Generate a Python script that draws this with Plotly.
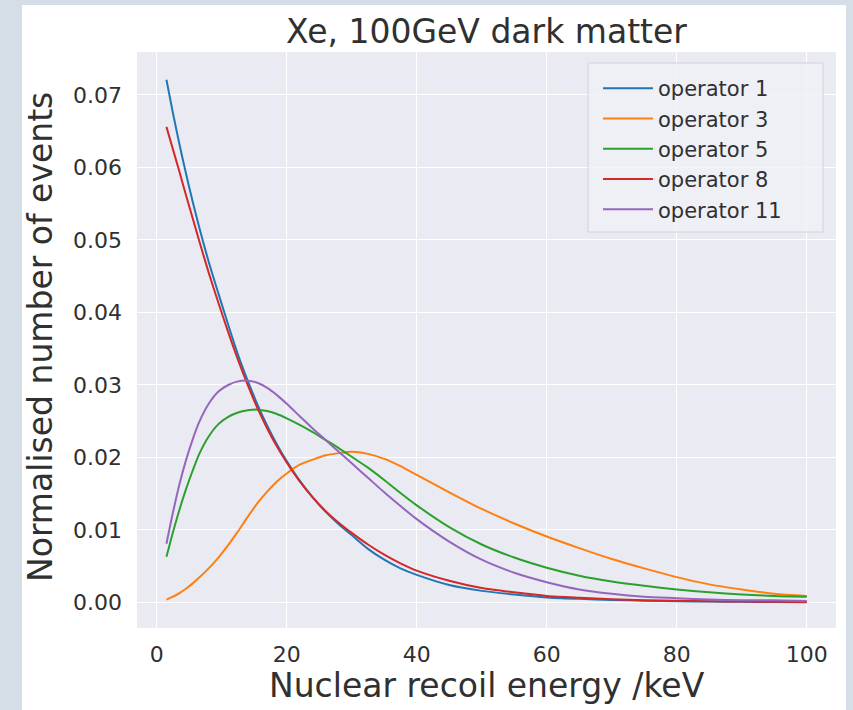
import plotly.graph_objects as go

# Recoil energy grid (keV)
energy = [1.5, 2.5, 3.5, 4.5, 5.5, 6.5, 8, 9.5, 11, 12.5, 14, 15.5, 17, 18.5, 20, 22, 24, 26,
          28, 30, 32.5, 35, 37.5, 40, 45, 50, 55, 60, 65, 70, 75, 80, 85, 90, 95, 100]

op1 = [0.0721, 0.0675, 0.0632, 0.0592, 0.0554, 0.0519, 0.0470, 0.0426, 0.0383, 0.0342,
       0.0306, 0.0273, 0.0244, 0.0218, 0.0195, 0.0168, 0.0145, 0.0125, 0.0108, 0.0093,
       0.0074, 0.0059, 0.0047, 0.0038, 0.0024, 0.0016, 0.0011, 0.0007, 0.0005, 0.00035,
       0.00025, 0.00018, 0.00012, 0.00009, 0.00006, 0.00004]
op3 = [0.0004, 0.0008, 0.0013, 0.0019, 0.0026, 0.0034, 0.0047, 0.0062, 0.0079, 0.0098,
       0.0118, 0.0137, 0.0153, 0.0167, 0.0178, 0.0190, 0.0197, 0.0203, 0.0206, 0.0208,
       0.0205, 0.0198, 0.0188, 0.0176, 0.0152, 0.0129, 0.0109, 0.0091, 0.0075, 0.0060,
       0.0047, 0.0035, 0.0025, 0.0018, 0.0012, 0.0009]
op5 = [0.0063, 0.0097, 0.0128, 0.0156, 0.0181, 0.0204, 0.0229, 0.0246, 0.0256, 0.0262,
       0.0265, 0.0266, 0.0264, 0.0260, 0.0254, 0.0245, 0.0235, 0.0224, 0.0213, 0.0201,
       0.0186, 0.0169, 0.0151, 0.0134, 0.0104, 0.0080, 0.0062, 0.0048, 0.0037, 0.0029,
       0.0023, 0.0018, 0.0014, 0.0011, 0.0009, 0.0008]
op8 = [0.0656, 0.0625, 0.0594, 0.0562, 0.0531, 0.0500, 0.0455, 0.0413, 0.0373, 0.0335,
       0.0300, 0.0268, 0.0240, 0.0215, 0.0193, 0.0167, 0.0145, 0.0126, 0.0110, 0.0096,
       0.0080, 0.0066, 0.0054, 0.0044, 0.0030, 0.0020, 0.0014, 0.0009, 0.00065, 0.00045,
       0.00032, 0.00023, 0.00017, 0.00012, 0.0001, 0.00008]
op11 = [0.0081, 0.0124, 0.0163, 0.0196, 0.0224, 0.0248, 0.0274, 0.0291, 0.0300, 0.0305,
        0.0306, 0.0303, 0.0296, 0.0286, 0.0274, 0.0257, 0.0240, 0.0224, 0.0208, 0.0192,
        0.0172, 0.0152, 0.0133, 0.0115, 0.0084, 0.0059, 0.0041, 0.0028, 0.0018, 0.0012,
        0.0008, 0.0006, 0.0004, 0.0003, 0.0003, 0.0002]

series_names = ["operator 1", "operator 3", "operator 5", "operator 8", "operator 11"]
series_values = [op1, op3, op5, op8, op11]
colors = ["#1f77b4", "#ff7f0e", "#2ca02c", "#d62728", "#9467bd"]

x_ticks = [0, 20, 40, 60, 80, 100]
y_ticks = [0.00, 0.01, 0.02, 0.03, 0.04, 0.05, 0.06, 0.07]

title_text = "Xe, 100GeV dark matter"
x_title = "Nuclear recoil energy /keV"
y_title = "Normalised number of events"

W, H = 853, 710
ML, MR, MT, MB = 137, 17, 52, 82
PW, PH = W - ML - MR, H - MT - MB


def px(xp):
    return (xp - ML) / PW


def py(yp):
    return (H - MB - yp) / PH


FONT = "DejaVu Sans"
TXT = "#303030"
FRAME = "#d5dde6"

fig = go.Figure()
for i, (name, vals) in enumerate(zip(series_names, series_values)):
    fig.add_trace(go.Scatter(
        x=energy, y=vals, mode="lines", name=name,
        line=dict(color=colors[i], width=2, shape="spline", smoothing=0.7),
    ))

shapes = [
    # outer frame strips
    dict(type="rect", xref="paper", yref="paper", x0=px(0), x1=px(22), y0=py(H), y1=py(0),
         fillcolor=FRAME, line=dict(width=0), layer="above"),
    dict(type="rect", xref="paper", yref="paper", x0=px(0), x1=px(W), y0=py(5), y1=py(0),
         fillcolor=FRAME, line=dict(width=0), layer="above"),
    dict(type="rect", xref="paper", yref="paper", x0=px(846), x1=px(W), y0=py(H), y1=py(0),
         fillcolor=FRAME, line=dict(width=0), layer="above"),
    # legend frame
    dict(type="rect", xref="paper", yref="paper", x0=px(588), x1=px(823), y0=py(232), y1=py(63),
         fillcolor="rgba(240,240,246,0.8)", line=dict(color="#d2d2da", width=1), layer="above"),
]

annotations = [
    dict(text=x_title, xref="paper", yref="paper", x=0.5, y=py(685), showarrow=False,
         xanchor="center", yanchor="middle", font=dict(family=FONT, size=33, color=TXT)),
    dict(text=y_title, xref="paper", yref="paper", x=px(40), y=py(337), showarrow=False,
         textangle=-90, xanchor="center", yanchor="middle",
         font=dict(family=FONT, size=33, color=TXT)),
]

fig.update_layout(
    width=W, height=H,
    margin=dict(l=ML, r=MR, t=MT, b=MB, autoexpand=False),
    paper_bgcolor="white",
    plot_bgcolor="#eaeaf2",
    title=dict(text=title_text, x=0.5, xref="paper", xanchor="center",
               y=1 - 31 / H, yref="container", yanchor="middle",
               font=dict(family=FONT, size=33, color=TXT)),
    xaxis=dict(range=[-3.03, 104.5], tickvals=x_ticks, ticktext=[str(v) for v in x_ticks],
               showgrid=True, gridcolor="white", gridwidth=1.3, zeroline=False,
               showline=False, ticks="", ticklabelstandoff=11,
               tickfont=dict(family=FONT, size=22, color=TXT)),
    yaxis=dict(range=[-0.00352, 0.07593], tickvals=y_ticks,
               ticktext=["%.2f" % v for v in y_ticks],
               showgrid=True, gridcolor="white", gridwidth=1.3, zeroline=False,
               showline=False, ticks="", ticklabelstandoff=14,
               tickfont=dict(family=FONT, size=22, color=TXT)),
    legend=dict(x=px(598), y=py(68), xanchor="left", yanchor="top",
                bgcolor="rgba(0,0,0,0)", borderwidth=0, itemwidth=50,
                font=dict(family=FONT, size=21, color=TXT)),
    shapes=shapes,
    annotations=annotations,
)

fig.write_html("out.html")
